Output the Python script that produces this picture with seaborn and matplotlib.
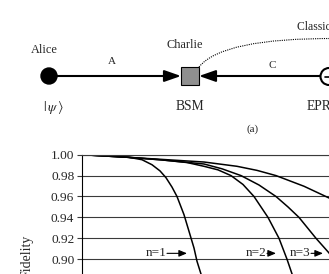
import numpy as np
import pandas as pd
import matplotlib.pyplot as plt
import seaborn as sns
from matplotlib.patches import Circle, Rectangle, PathPatch
from matplotlib.path import Path

# Fidelity curves (x in arbitrary distance units)
distance_n1 = [0, 30, 47, 60, 70, 78, 84, 90, 95, 102, 107, 112, 115, 119, 124]
fidelity_n1 = [1.000, 0.9988, 0.9975, 0.9952, 0.9904, 0.9845, 0.978, 0.969, 0.960, 0.9426, 0.9267, 0.9107, 0.898, 0.8858, 0.870]

distance_n2 = [0, 46, 80, 105, 122, 136, 149, 161, 172, 186, 197, 205, 210, 216]
fidelity_n2 = [1.000, 0.9975, 0.995, 0.9925, 0.9889, 0.9855, 0.980, 0.9715, 0.960, 0.940, 0.920, 0.900, 0.886, 0.870]

distance_n3 = [0, 46, 80, 122, 140, 159, 177, 194, 206, 217, 234, 247, 258]
fidelity_n3 = [1.000, 0.9975, 0.995, 0.9911, 0.9865, 0.980, 0.971, 0.960, 0.950, 0.940, 0.920, 0.906, 0.890]

distance_n4 = [0, 46, 80, 122, 155, 175, 194, 222, 247, 270]
fidelity_n4 = [1.000, 0.9975, 0.9955, 0.993, 0.9889, 0.9850, 0.980, 0.9698, 0.9586, 0.945]

curve_labels = ['n=1', 'n=2', 'n=3']
label_x = [74, 174, 218]
arrow_tail = [85, 185, 229]
arrow_tip = [105, 194, 241]
label_y = 0.9056

df = pd.concat([
    pd.DataFrame({'distance': distance_n1, 'fidelity': fidelity_n1, 'n': 1}),
    pd.DataFrame({'distance': distance_n2, 'fidelity': fidelity_n2, 'n': 2}),
    pd.DataFrame({'distance': distance_n3, 'fidelity': fidelity_n3, 'n': 3}),
    pd.DataFrame({'distance': distance_n4, 'fidelity': fidelity_n4, 'n': 4}),
])

sns.set_style('white')
plt.rcParams['font.family'] = ['Liberation Serif', 'DejaVu Serif']
plt.rcParams['mathtext.fontset'] = 'stix'

fig = plt.figure(figsize=(3.29, 2.74), dpi=100)

# --- (a) teleportation diagram, drawn in pixel coordinates ---
dg = fig.add_axes([0, 0, 1, 1])
dg.set_xlim(0, 329)
dg.set_ylim(274, 0)
dg.axis('off')

dg.annotate('', xy=(181, 76), xytext=(49, 76),
            arrowprops=dict(arrowstyle='-|>,head_length=1.0,head_width=0.35', lw=1.5,
                            color='black', mutation_scale=10, shrinkA=0, shrinkB=0))
dg.annotate('', xy=(199, 76), xytext=(321, 76),
            arrowprops=dict(arrowstyle='-|>,head_length=1.0,head_width=0.35', lw=1.5,
                            color='black', mutation_scale=10, shrinkA=0, shrinkB=0))
dg.add_patch(Circle((49, 76), 8, color='black'))
dg.add_patch(Rectangle((181, 67), 18, 18, facecolor='#8f8f8f', edgecolor='black', lw=0.8, zorder=3))
dg.add_patch(Circle((329, 76.5), 8.5, facecolor='white', edgecolor='black', lw=1.5, zorder=3))
dg.plot([325, 329], [76.5, 76.5], color='black', lw=1.2, zorder=4)
dotted = Path([(199, 67), (222, 38), (335, 38.5)], [Path.MOVETO, Path.CURVE3, Path.CURVE3])
dg.add_patch(PathPatch(dotted, facecolor='none', edgecolor='black', lw=0.8, ls=(0, (1, 1))))

dg.text(44.5, 50, 'Alice', ha='center', va='center', fontsize=8.8)
dg.text(185, 45, 'Charlie', ha='center', va='center', fontsize=8.8)
dg.text(112, 62, 'A', ha='center', va='center', fontsize=8)
dg.text(272, 66, 'C', ha='center', va='center', fontsize=8)
dg.text(53, 108, r'$|\,\psi\,\rangle$', ha='center', va='center', fontsize=10)
dg.text(189.5, 106, 'BSM', ha='center', va='center', fontsize=9.8)
dg.text(307, 106, 'EPR', ha='left', va='center', fontsize=9.8)
dg.text(297, 27, 'Classical channel', ha='left', va='center', fontsize=8.4)
dg.text(253, 129, '(a)', ha='center', va='center', fontsize=8)

# --- fidelity chart ---
ax = fig.add_axes([82 / 329, -89.7 / 274, 300 / 329, 209 / 274])
ax.set_facecolor('none')
sns.lineplot(data=df, x='distance', y='fidelity', units='n', estimator=None,
             color='black', lw=1.1, ax=ax, legend=False)
ax.set_xlim(0, 300)
ax.set_ylim(0.80, 1.00)
ax.set_yticks(np.arange(0.80, 1.001, 0.02))
ax.set_yticklabels([f'{v:.2f}' for v in np.arange(0.80, 1.001, 0.02)])
ax.set_xticks([])
ax.set_xlabel('')
ax.set_ylabel('Fidelity', fontsize=10)
ax.yaxis.set_label_coords(-0.163, 0.515)
ax.yaxis.grid(True, color='#3a3a3a', lw=0.8)
ax.tick_params(axis='y', which='major', left=True, length=3.5, width=0.8,
               color='#3a3a3a', labelsize=9.6, pad=2)
for s in ax.spines.values():
    s.set_color('#3a3a3a')
    s.set_linewidth(0.8)
ax.spines['left'].set_color('black')

for lab, lx, t0, t1 in zip(curve_labels, label_x, arrow_tail, arrow_tip):
    ax.text(lx, label_y, lab, ha='center', va='center', fontsize=9.5)
    ax.annotate('', xy=(t1, label_y), xytext=(t0, label_y),
                arrowprops=dict(arrowstyle='-|>,head_length=0.6,head_width=0.25', lw=0.8,
                                color='black', mutation_scale=8, shrinkA=0, shrinkB=0))

fig.savefig('out.png', dpi=100)
